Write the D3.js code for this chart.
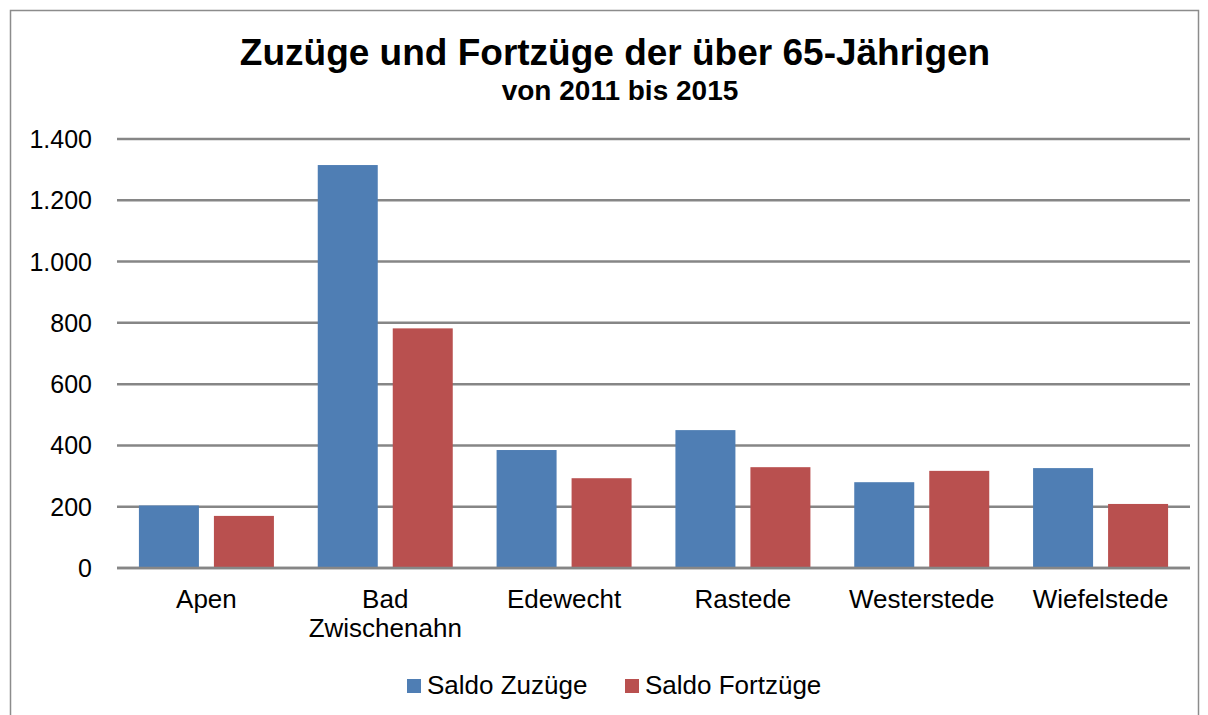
<!DOCTYPE html>
<html>
<head>
<meta charset="utf-8">
<script src="https://cdn.jsdelivr.net/npm/d3@7"></script>
<style>
  body { margin: 0; background: #fff; }
  svg text { font-family: "Liberation Sans", Arial, sans-serif; }
</style>
</head>
<body>
<div id="chart"></div>
<script>
// data
var gemeinden = ["Apen", "Bad Zwischenahn", "Edewecht", "Rastede", "Westerstede", "Wiefelstede"];
var saldoZuzuege = [204, 1315, 385, 450, 280, 326];
var saldoFortzuege = [170, 782, 293, 329, 317, 209];
var seriesNames = ["Saldo Zuzüge", "Saldo Fortzüge"];
var yTicks = [0, 200, 400, 600, 800, 1000, 1200, 1400];

var colors = ["#4F7EB4", "#B9504F"];
var w = 1208, h = 715;

var svg = d3.select("#chart").append("svg")
    .attr("width", w)
    .attr("height", h);

// outer frame
svg.append("rect")
    .attr("x", 10.5).attr("y", 10.5)
    .attr("width", 1188).attr("height", 720)
    .style("fill", "none")
    .style("stroke", "#8c8c8c")
    .style("stroke-width", 1.5);

svg.append("text")
    .attr("x", 615).attr("y", 65)
    .attr("text-anchor", "middle")
    .style("font-size", "37px")
    .style("font-weight", "bold")
    .text("Zuzüge und Fortzüge der über 65-Jährigen");

svg.append("text")
    .attr("x", 620).attr("y", 100)
    .attr("text-anchor", "middle")
    .style("font-size", "28px")
    .style("font-weight", "bold")
    .text("von 2011 bis 2015");

var plotL = 117, plotR = 1190, plotT = 139, plotB = 568;

var x = d3.scaleBand()
    .domain(gemeinden)
    .range([plotL, plotR]);

var y = d3.scaleLinear()
    .domain([0, 1400])
    .range([plotB, plotT]);

var fmt = d3.formatLocale({decimal: ",", thousands: ".", grouping: [3], currency: ["", "€"]}).format(",d");

// grid lines
svg.append("g")
    .selectAll("line")
    .data(yTicks)
    .enter().append("line")
    .attr("x1", plotL).attr("x2", plotR)
    .attr("y1", function(d) { return y(d); })
    .attr("y2", function(d) { return y(d); })
    .style("stroke", "#868686")
    .style("stroke-width", 2.5);

// y axis labels
svg.append("g")
    .selectAll("text")
    .data(yTicks)
    .enter().append("text")
    .attr("x", 92)
    .attr("y", function(d) { return y(d) + 9; })
    .attr("text-anchor", "end")
    .style("font-size", "25px")
    .text(function(d) { return fmt(d); });

// bars
var barW = 60, gap = 15;
var series = [saldoZuzuege, saldoFortzuege];
series.forEach(function(vals, s) {
    svg.append("g")
        .selectAll("rect")
        .data(vals)
        .enter().append("rect")
        .attr("x", function(d, i) {
            var c = x(gemeinden[i]) + x.bandwidth() / 2;
            return c - (barW * 2 + gap) / 2 + s * (barW + gap);
        })
        .attr("width", barW)
        .attr("y", function(d) { return y(d); })
        .attr("height", function(d) { return y(0) - y(d); })
        .style("fill", colors[s]);
});

// redraw baseline over bars
svg.append("line")
    .attr("x1", plotL).attr("x2", plotR)
    .attr("y1", y(0)).attr("y2", y(0))
    .style("stroke", "#868686")
    .style("stroke-width", 2.5);

// category labels
var cat = svg.append("g")
    .selectAll("text")
    .data(gemeinden)
    .enter().append("text")
    .attr("x", function(d) { return x(d) + x.bandwidth() / 2; })
    .attr("y", 608)
    .attr("text-anchor", "middle")
    .style("font-size", "26px");
cat.each(function(d) {
    var parts = d.split(" ");
    var t = d3.select(this);
    parts.forEach(function(p, i) {
        t.append("tspan")
            .attr("x", t.attr("x"))
            .attr("dy", i == 0 ? 0 : 29)
            .text(p);
    });
});

// legend
var legendX = [407, 625];
seriesNames.forEach(function(n, i) {
    svg.append("rect")
        .attr("x", legendX[i]).attr("y", 679)
        .attr("width", 14).attr("height", 14)
        .style("fill", colors[i]);
    svg.append("text")
        .attr("x", legendX[i] + 20).attr("y", 694)
        .style("font-size", "26px")
        .text(n);
});
</script>
</body>
</html>
